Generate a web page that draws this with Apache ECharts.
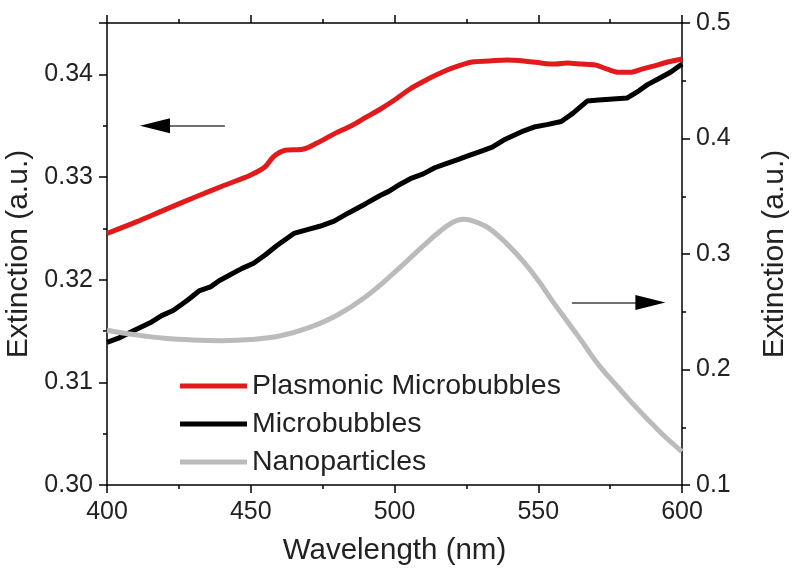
<!DOCTYPE html>
<html>
<head>
<meta charset="utf-8">
<script src="https://cdn.jsdelivr.net/npm/echarts@6/dist/echarts.min.js"></script>
<style>html,body{margin:0;padding:0;background:#fff;}#c{width:794px;height:575px;}</style>
</head>
<body>
<div id="c"></div>
<script>
// Wavelength (nm) and extinction values
const plasmonicWl  = [400, 410, 420, 432, 440, 450, 455, 458, 462, 468, 473, 479, 485, 490, 495, 500, 505, 510, 515, 520, 527, 533, 539, 545, 551, 556, 560, 565, 570, 574, 578, 582, 586, 590, 595, 600];
const plasmonicVal = [0.3245, 0.3256, 0.3268, 0.3282, 0.3291, 0.3302, 0.3310, 0.3320, 0.3326, 0.3327, 0.3333, 0.3342, 0.3350, 0.3358, 0.3366, 0.3375, 0.3385, 0.3393, 0.3400, 0.3406, 0.3412, 0.3413, 0.3414, 0.3413, 0.3411, 0.3410, 0.3411, 0.3410, 0.3409, 0.3405, 0.3402, 0.3402, 0.3405, 0.3408, 0.3412, 0.3415];

const microWl  = [400, 404, 409, 415, 419, 423, 428, 432, 436, 439, 443, 447, 451, 455, 459, 465, 470, 474, 479, 484, 490, 495, 498, 502, 506, 510, 514, 518, 522, 526, 530, 534, 538, 541, 545, 549, 553, 558, 562, 567, 571, 576, 581, 585, 588, 592, 596, 600];
const microVal = [0.3139, 0.3143, 0.3150, 0.3158, 0.3165, 0.3170, 0.3180, 0.3189, 0.3193, 0.3199, 0.3205, 0.3211, 0.3216, 0.3224, 0.3233, 0.3245, 0.3249, 0.3252, 0.3257, 0.3265, 0.3274, 0.3282, 0.3286, 0.3293, 0.3299, 0.3303, 0.3309, 0.3313, 0.3317, 0.3321, 0.3325, 0.3329, 0.3336, 0.3340, 0.3345, 0.3349, 0.3351, 0.3354, 0.3362, 0.3374, 0.3375, 0.3376, 0.3377, 0.3384, 0.3390, 0.3396, 0.3402, 0.3410];

const nanoWl  = [400, 410, 420, 430, 440, 450, 460, 470, 480, 490, 500, 510, 515, 520, 524, 528, 533, 539, 545, 550, 555, 560, 565, 571, 578, 583, 588, 594, 600];
const nanoVal = [0.234, 0.230, 0.227, 0.2255, 0.225, 0.226, 0.229, 0.236, 0.247, 0.263, 0.284, 0.307, 0.318, 0.327, 0.330, 0.328, 0.322, 0.309, 0.293, 0.277, 0.259, 0.242, 0.225, 0.204, 0.184, 0.170, 0.157, 0.142, 0.129];

const seriesNames = ['Plasmonic Microbubbles', 'Microbubbles', 'Nanoparticles'];
const xTicks = [400, 450, 500, 550, 600];
const leftTicks = [0.30, 0.31, 0.32, 0.33, 0.34];
const rightTicks = [0.1, 0.2, 0.3, 0.4, 0.5];

// arrow annotations (data coordinates)
const leftArrow = {from: 441, headBase: 421, tip: 411.5, y: 0.335};
const rightArrow = {from: 561.7, headBase: 584, tip: 594.2, y: 0.258};

const FONT = 'Liberation Sans, Arial, Helvetica, sans-serif';
const pairs = (xs, ys) => xs.map((x, i) => [x, ys[i]]);

const axisLineStyle = {color: '#000', width: 1.5};
const tickCommon = {show: true, inside: false, length: 8, lineStyle: {color: '#000', width: 1.5}};
const minorCommon = {show: true, splitNumber: 2, length: 4, lineStyle: {color: '#000', width: 1.5}};

function arrowLines(a, headLen) {
  const mid = a.tip + (a.headBase > a.tip ? 1 : -1) * headLen / 2;
  return [
    [{coord: [a.from, a.y], symbol: 'none', lineStyle: {color: '#707070', width: 2, type: 'solid'}},
     {coord: [a.headBase, a.y], symbol: 'none'}],
    [{coord: [a.headBase, a.y], symbol: 'none', lineStyle: {color: '#000', width: 2, type: 'solid'}},
     {coord: [mid, a.y], symbol: 'triangle', symbolSize: [15, 30]}]
  ];
}

const chart = echarts.init(document.getElementById('c'), null, {renderer: 'canvas'});
chart.setOption({
  animation: false,
  backgroundColor: '#fff',
  textStyle: {fontFamily: FONT},
  grid: {left: 107, right: 112, top: 23, bottom: 90, containLabel: false, outerBoundsMode: 'none'},
  legend: {
    data: seriesNames,
    orient: 'vertical',
    left: 175, top: 365,
    icon: 'rect',
    itemWidth: 67, itemHeight: 5, itemGap: 6,
    textStyle: {fontFamily: FONT, fontSize: 28.5, color: '#222', lineHeight: 32, padding: [0, 0, 0, 0]},
    selectedMode: false
  },
  xAxis: [{
    type: 'value', min: xTicks[0], max: xTicks[xTicks.length - 1], interval: 50,
    name: 'Wavelength (nm)', nameLocation: 'middle', nameGap: 51,
    nameTextStyle: {fontFamily: FONT, fontSize: 29.5, color: '#222'},
    axisLine: {show: true, lineStyle: axisLineStyle},
    axisTick: tickCommon, minorTick: minorCommon,
    axisLabel: {fontFamily: FONT, fontSize: 25, color: '#222', margin: 15},
    splitLine: {show: false}
  }, {
    type: 'value', position: 'top', min: xTicks[0], max: xTicks[xTicks.length - 1], interval: 50,
    axisLine: {show: true, lineStyle: axisLineStyle},
    axisTick: tickCommon, minorTick: minorCommon,
    axisLabel: {show: false}, splitLine: {show: false}
  }],
  yAxis: [{
    type: 'value', position: 'left', min: 0.30, max: 0.345, interval: 0.01,
    name: 'Extinction (a.u.)', nameLocation: 'middle', nameGap: 68, nameRotate: 90,
    nameTextStyle: {fontFamily: FONT, fontSize: 30, color: '#222'},
    axisLine: {show: true, lineStyle: axisLineStyle},
    axisTick: tickCommon, minorTick: minorCommon,
    axisLabel: {fontFamily: FONT, fontSize: 25, color: '#222', margin: 14,
      formatter: v => leftTicks.some(t => Math.abs(t - v) < 1e-9) ? v.toFixed(2) : ''},
    splitLine: {show: false}
  }, {
    type: 'value', position: 'right', min: 0.1, max: 0.5, interval: 0.1,
    name: 'Extinction (a.u.)', nameLocation: 'middle', nameGap: 78, nameRotate: 90,
    nameTextStyle: {fontFamily: FONT, fontSize: 30, color: '#222'},
    axisLine: {show: true, lineStyle: axisLineStyle},
    axisTick: tickCommon, minorTick: minorCommon,
    axisLabel: {fontFamily: FONT, fontSize: 25, color: '#222', margin: 14,
      formatter: v => rightTicks.some(t => Math.abs(t - v) < 1e-9) ? v.toFixed(1) : ''},
    splitLine: {show: false}
  }],
  series: [{
    name: seriesNames[0], type: 'line', xAxisIndex: 0, yAxisIndex: 0,
    data: pairs(plasmonicWl, plasmonicVal), showSymbol: false, smooth: 0.3,
    lineStyle: {color: '#e31a1c', width: 5}, itemStyle: {color: '#e31a1c'},
    markLine: {silent: true, symbol: ['none', 'none'], label: {show: false},
      data: arrowLines(leftArrow, 10.4)}
  }, {
    name: seriesNames[1], type: 'line', xAxisIndex: 0, yAxisIndex: 0,
    data: pairs(microWl, microVal), showSymbol: false,
    lineStyle: {color: '#000', width: 5}, itemStyle: {color: '#000'}
  }, {
    name: seriesNames[2], type: 'line', xAxisIndex: 0, yAxisIndex: 1,
    data: pairs(nanoWl, nanoVal), showSymbol: false, smooth: 0.4,
    lineStyle: {color: '#bbbbbb', width: 5}, itemStyle: {color: '#bbbbbb'},
    markLine: {silent: true, symbol: ['none', 'none'], label: {show: false},
      data: arrowLines(rightArrow, 10.4)}
  }]
});
</script>
</body>
</html>
